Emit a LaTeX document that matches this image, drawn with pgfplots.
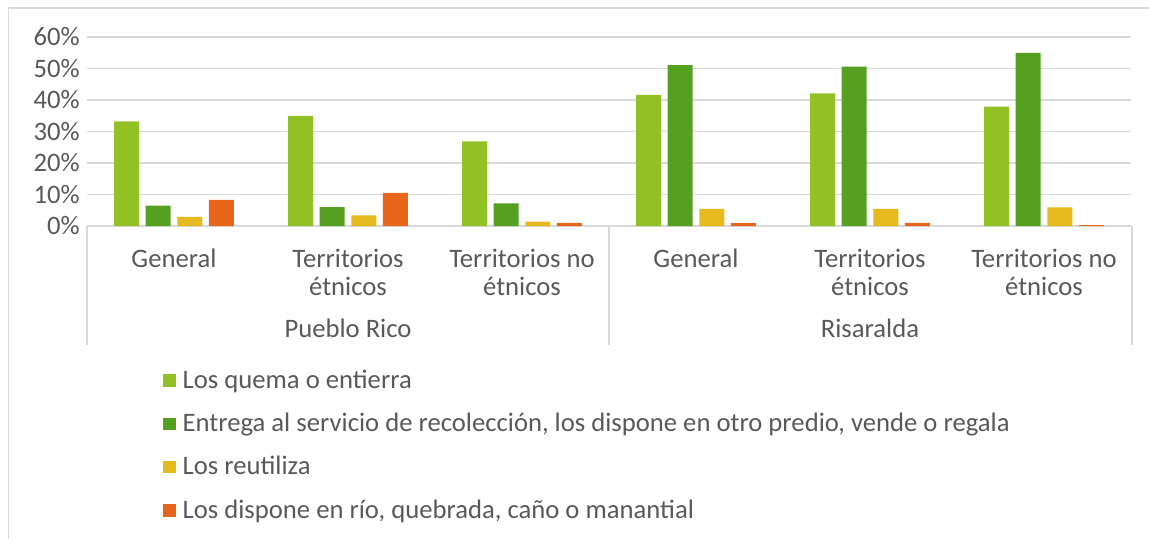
\documentclass[border=0pt]{standalone}
\usepackage{pgfplots}
\pgfplotsset{compat=1.18}
\usepackage{fontspec}
\setmainfont{Carlito}
\definecolor{lgreen}{HTML}{92C125}
\definecolor{dgreen}{HTML}{55A021}
\definecolor{cyellow}{HTML}{E6B91F}
\definecolor{corange}{HTML}{E8661B}
\definecolor{txtgray}{HTML}{595959}
\definecolor{gridgray}{HTML}{D9D9D9}
\begin{document}
\begin{tikzpicture}
\useasboundingbox (0pt,0pt) rectangle (861.75pt,-404.25pt);
\draw[gridgray,line width=1pt] (6.4pt,-404.25pt) -- (6.4pt,-6pt) -- (861.75pt,-6pt);
\begin{axis}[
  at={(65.25pt,-169.5pt)}, anchor=south west,
  scale only axis, width=783pt, height=141.75pt,
  ybar, bar width=0.1437,
  xmin=-0.5, xmax=5.5, ymin=0, ymax=60,
  xtick={0,1,2,3,4,5},
  xticklabels={General, Territorios\\étnicos, Territorios no\\étnicos, General, Territorios\\étnicos, Territorios no\\étnicos},
  ytick={0,10,20,30,40,50,60},
  yticklabel={\pgfmathprintnumber{\tick}\%},
  /pgf/number format/assume math mode=true,
  ymajorgrids, grid style={gridgray, line width=1.1pt},
  axis x line*=bottom, axis y line*=left,
  x axis line style={gridgray, line width=1.1pt, -},
  y axis line style={draw=none},
  major tick length=0pt,
  tick label style={font=\fontsize{20}{21}\selectfont, text=txtgray},
  xticklabel style={align=center, yshift=-13.5pt},
  yticklabel style={xshift=-2pt},
  legend style={at={(0.0728,-0.757)}, anchor=north west, draw=none, fill=none, inner sep=0pt,
    font=\fontsize{20}{21}\selectfont, text=txtgray, row sep=14.5pt,
    nodes={inner sep=0pt, text height=14pt, text depth=4pt}},
  legend cell align=left,
  legend image code/.code={\fill[#1] (0pt,-4pt) rectangle (9.3pt,5.3pt);},
  /tikz/every odd column/.style={column sep=5.25pt},
]
\addplot[fill=lgreen, draw=none, bar shift=-0.2724] coordinates {(0,33.2) (1,35.0) (2,26.9) (3,41.6) (4,42.1) (5,37.9)};
\addplot[fill=dgreen, draw=none, bar shift=-0.0908] coordinates {(0,6.5) (1,6.0) (2,7.2) (3,51.1) (4,50.6) (5,55.0)};
\addplot[fill=cyellow, draw=none, bar shift=0.0908] coordinates {(0,2.9) (1,3.4) (2,1.4) (3,5.4) (4,5.4) (5,5.9)};
\addplot[fill=corange, draw=none, bar shift=0.2724] coordinates {(0,8.3) (1,10.5) (2,1.0) (3,0.9) (4,1.0) (5,0.3)};
\legend{Los quema o entierra, {Entrega al servicio de recolección, los dispone en otro predio, vende o regala}, Los reutiliza, {Los dispone en río, quebrada, caño o manantial}}
\end{axis}
\draw[gridgray, line width=1.1pt] (65.25pt,-169.5pt) -- (65.25pt,-258.75pt);
\draw[gridgray, line width=1.1pt] (456.75pt,-169.5pt) -- (456.75pt,-258.75pt);
\draw[gridgray, line width=1.1pt] (849pt,-169.5pt) -- (849pt,-258.75pt);
\node[text=txtgray, font=\fontsize{20}{21}\selectfont] at (261pt,-246pt) {Pueblo Rico};
\node[text=txtgray, font=\fontsize{20}{21}\selectfont] at (652.5pt,-246pt) {Risaralda};
\end{tikzpicture}
\end{document}
